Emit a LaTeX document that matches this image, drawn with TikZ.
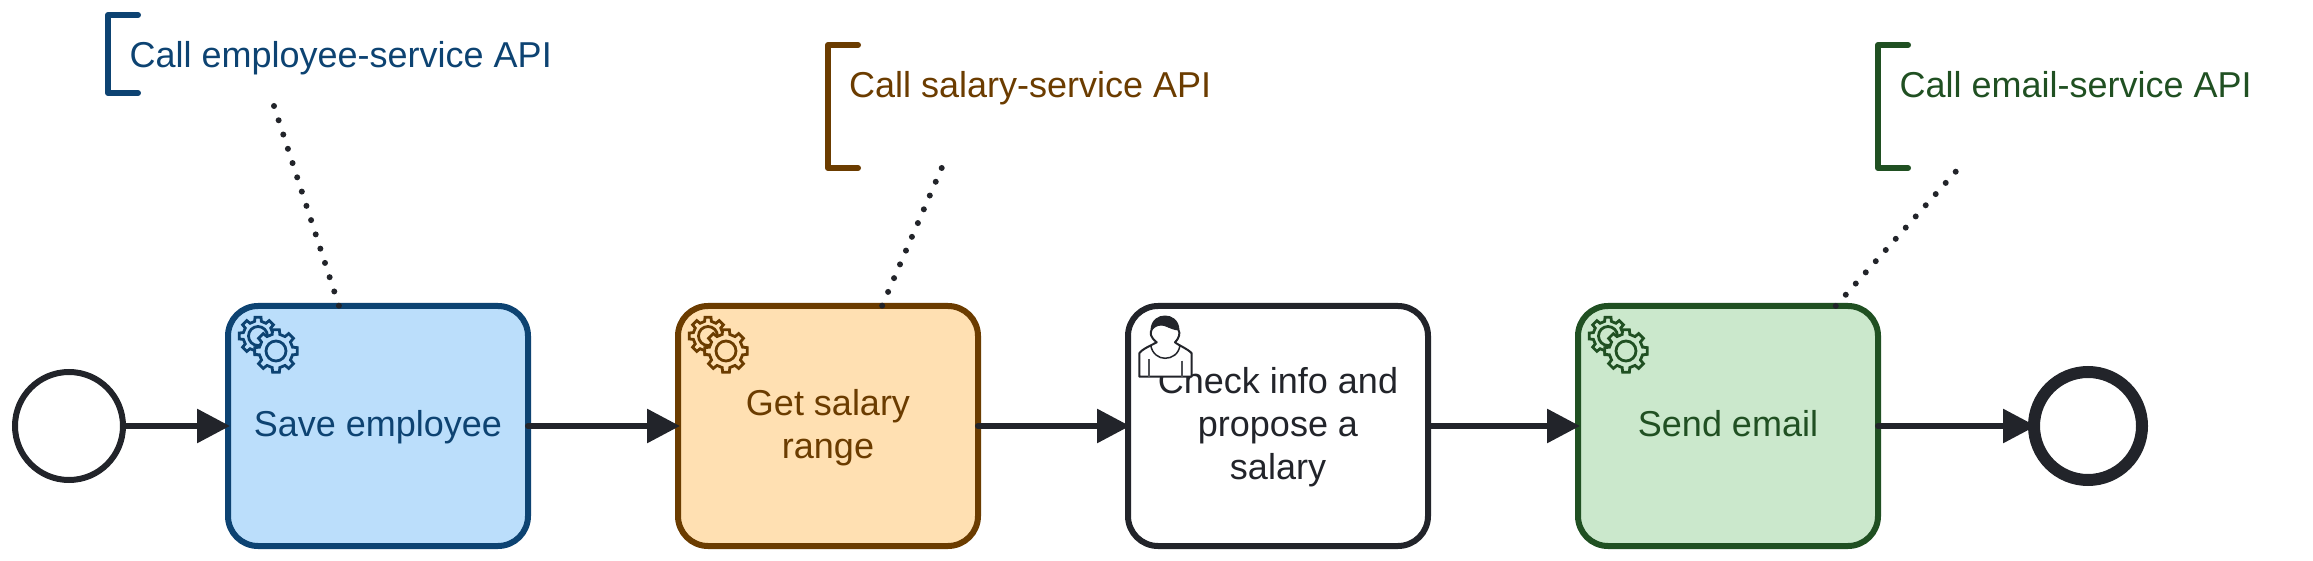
\documentclass[tikz,border=0pt]{standalone}
\usepackage{fontspec}
\setmainfont{Liberation Sans}
\usetikzlibrary{arrows.meta}
\definecolor{inkdark}{HTML}{22242A}
\definecolor{empline}{HTML}{0D4372}
\definecolor{empfill}{HTML}{BBDEFB}
\definecolor{salline}{HTML}{6B3C00}
\definecolor{salfill}{HTML}{FFE0B2}
\definecolor{mailline}{HTML}{205022}
\definecolor{mailfill}{HTML}{CBE8CC}
\newcommand\taskstrut{\rule[-9.6pt]{0pt}{40.6pt}}
\tikzset{
bpmntext/.style={font=\fontsize{36pt}{43.2pt}\selectfont},
task/.style={bpmntext,draw,rectangle,rounded corners=30pt,line width=6pt,outer sep=0pt,inner sep=0pt,
minimum width=300pt,minimum height=240pt,align=center},
flow/.style={draw=inkdark,line width=6pt,line cap=round,shorten >=-2pt,-{Triangle[length=33pt,width=33pt]}},
assoc/.style={draw=inkdark,line width=6pt,line cap=round,dash pattern=on 0pt off 15pt},
brace/.style={line width=6pt,line cap=round,line join=round},
note/.style={bpmntext,anchor=base west,inner sep=0pt},
gearicon/.pic={
\path[pic actions,shift={(30,30)}] (-13:15)
\foreach \a in {0,45,...,315}{--({\a-13}:15)--({\a-9}:19)--({\a+9}:19)--({\a+13}:15)}--cycle;
\draw[pic actions,fill=none,shift={(30,30)}] (0,0) circle (9.5);
\path[pic actions,shift={(48,45)}] (-13:17)
\foreach \a in {0,45,...,315}{--({\a-13}:17)--({\a-9}:21.5)--({\a+9}:21.5)--({\a+13}:17)}--cycle;
\path[pic actions,shift={(48,45)}] (0,0) circle (10);
},
usericon/.pic={
\draw[fill=white,draw=inkdark,line width=2pt,line join=round] (11.3,70.7)--(11.3,47.3)
.. controls (14,43) and (24,39) .. (28.7,36.3)
.. controls (22,31) and (22,27) .. (23.5,24)
.. controls (24,14) and (31,10.5) .. (37,10.5)
.. controls (43,10.5) and (50,14) .. (50.5,24)
.. controls (52,27) and (52,31) .. (47,36.3)
.. controls (50,39) and (60,43) .. (63.7,47.3)--(63.7,70.7)--cycle;
\draw[fill=inkdark,draw=inkdark,line width=1pt] (23.7,24)
.. controls (24,14) and (31,10.5) .. (37,10.5)
.. controls (43,10.5) and (50,14) .. (50.3,24)
.. controls (42,23) and (38,19) .. (33.7,19)
.. controls (29,19) and (26,21) .. cycle;
\draw[inkdark,line width=1.5pt] (22.7,39) .. controls (24,48) and (31,52.3) .. (37,52.3)
.. controls (44,52.3) and (51,48) .. (52,39);
\draw[inkdark!80,line width=2pt] (21.3,53.3)--(21.3,70.7) (53.7,54.7)--(53.7,70.7);
}
}
\begin{document}
\begin{tikzpicture}[x=1pt,y=-1pt]
\useasboundingbox (0,0) rectangle (2313,561);
\node[draw=inkdark,circle,line width=6pt,minimum size=108pt,outer sep=0pt,inner sep=0pt] (startEv) at (69,426) {};
\node[task,draw=empline,fill=empfill,text=empline] (taskA) at (378,426) {\taskstrut Save employee};
\node[task,draw=salline,fill=salfill,text=salline] (taskB) at (828,426) {\taskstrut Get salary\\\taskstrut range};
\node[task,draw=inkdark,fill=white,text=inkdark] (taskC) at (1278,426) {\taskstrut Check info and\\\taskstrut propose a\\\taskstrut salary};
\node[task,draw=mailline,fill=mailfill,text=mailline] (taskD) at (1728,426) {\taskstrut Send email};
\node[draw=inkdark,circle,line width=12pt,minimum size=108pt,outer sep=0pt,inner sep=0pt] (endEv) at (2088,426) {};
\pic[draw=empline,fill=empfill,line width=2.8pt] at (taskA.north west) {gearicon};
\pic[draw=salline,fill=salfill,line width=2.8pt] at (taskB.north west) {gearicon};
\pic[draw=mailline,fill=mailfill,line width=2.8pt] at (taskD.north west) {gearicon};
\pic at (taskC.north west) {usericon};
\node[note,text=empline] (noteA) at (129.5,68) {Call employee-service API};
\node[note,text=salline] (noteB) at (849,98) {Call salary-service API};
\node[note,text=mailline] (noteC) at (1899.5,98) {Call email-service API};
\draw[brace,empline] (138,15)--(108,15)--(108,93)--(138,93);
\draw[brace,salline] (858,45)--(828,45)--(828,168)--(858,168);
\draw[brace,mailline] (1908,45)--(1878,45)--(1878,168)--(1908,168);
\coordinate (assocA) at (274,106);
\coordinate (footA) at (339,306);
\coordinate (assocB) at (941.7,168);
\coordinate (footB) at (882,306);
\coordinate (assocC) at (1955.7,171.7);
\coordinate (footC) at (1835.7,306);
\draw[assoc] (assocA)--(footA);
\draw[assoc] (assocB)--(footB);
\draw[assoc] (assocC)--(footC);
\draw[flow] (startEv)--(taskA);
\draw[flow] (taskA)--(taskB);
\draw[flow] (taskB)--(taskC);
\draw[flow] (taskC)--(taskD);
\draw[flow] (taskD)--(endEv);
\end{tikzpicture}
\end{document}
